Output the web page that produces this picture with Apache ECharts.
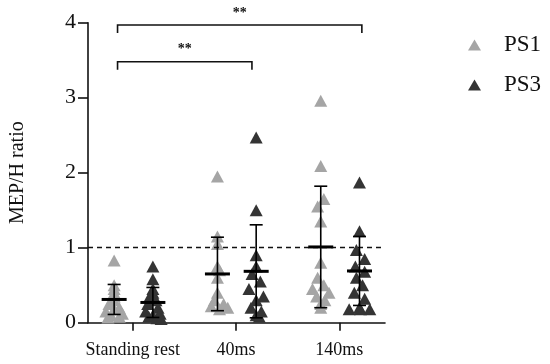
<!DOCTYPE html>
<html><head><meta charset="utf-8">
<script src="https://cdn.jsdelivr.net/npm/echarts@6/dist/echarts.min.js"></script>
<style>html,body{margin:0;padding:0;background:#fff}#c{width:550px;height:364px}</style>
</head><body><div id="c"></div>
<script>
var categories = ['Standing rest', '40ms', '140ms'];
var yTicks = [0, 1, 2, 3, 4];
// PS1 values per category
var ps1_sr = [0.83, 0.5, 0.45, 0.4, 0.35, 0.3, 0.25, 0.2, 0.18, 0.15, 0.12, 0.1, 0.08, 0.07];
var ps1_40 = [1.95, 1.15, 1.05, 0.75, 0.7, 0.6, 0.4, 0.3, 0.25, 0.22, 0.2, 0.18];
var ps1_140 = [2.96, 2.09, 1.65, 1.55, 1.35, 0.8, 0.6, 0.5, 0.45, 0.4, 0.35, 0.3, 0.25, 0.2];
// PS3 values per category
var ps3_sr = [0.75, 0.58, 0.45, 0.4, 0.35, 0.3, 0.25, 0.2, 0.15, 0.12, 0.1, 0.08, 0.06, 0.05];
var ps3_40 = [2.47, 1.5, 0.9, 0.75, 0.65, 0.55, 0.45, 0.35, 0.3, 0.2, 0.15, 0.1, 0.08];
var ps3_140 = [1.87, 1.22, 0.97, 0.85, 0.75, 0.68, 0.6, 0.5, 0.4, 0.32, 0.2, 0.18, 0.18, 0.18];
// horizontal spread of points within each group (beeswarm), category units
var jit1_sr = [0, 0, 0, 0, 0, 0, -0.05, 0.05, 0, -0.08, 0.08, -0.03, 0.05, -0.06];
var jit1_40 = [0, 0, 0, 0, 0.02, 0, 0, -0.03, 0.06, -0.06, 0.1, 0.02];
var jit1_140 = [0, 0, 0.03, -0.03, 0, 0, -0.03, 0.03, -0.08, 0.08, -0.04, 0.04, 0, 0];
var jit3_sr = [0, 0, 0, 0, -0.03, 0.03, -0.05, 0.05, -0.07, 0.07, 0, -0.04, 0.04, 0.08];
var jit3_40 = [0, 0, 0, 0, -0.04, 0.04, -0.07, 0.07, 0, -0.05, 0.05, 0, 0.03];
var jit3_140 = [0, 0, -0.03, 0.05, -0.04, 0.05, -0.03, 0.03, -0.05, 0.05, 0, -0.1, 0.1, 0.01];
// mean and SD per category
var ps1_mean = [0.31, 0.65, 1.01];
var ps1_sd = [0.20, 0.49, 0.81];
var ps3_mean = [0.27, 0.685, 0.69];
var ps3_sd = [0.20, 0.62, 0.46];
// significance brackets: [x start, x end, y level, label]
var sigBrackets = [[-0.147, 2.218, 3.97, '**'], [-0.147, 1.154, 3.48, '**']];
var refLine = 1;

var off1 = -0.18, off3 = 0.195;
var c1 = '#a5a5a5', c3 = '#343434';
var serif = 'Liberation Serif, Times New Roman, serif';

function pts(groups, jits, off) {
  var out = [];
  groups.forEach(function (g, ci) {
    g.forEach(function (v, i) { out.push([ci + off + jits[ci][i], v]); });
  });
  return out;
}
var ps1Pts = pts([ps1_sr, ps1_40, ps1_140], [jit1_sr, jit1_40, jit1_140], off1);
var ps3Pts = pts([ps3_sr, ps3_40, ps3_140], [jit3_sr, jit3_40, jit3_140], off3);

function statData(means, sds, off) {
  return means.map(function (m, i) { return [i + off, m, m - sds[i], m + sds[i]]; });
}

function renderStat(params, api) {
  var x = api.value(0);
  var pm = api.coord([x, api.value(1)]);
  var pl = api.coord([x, api.value(2)]);
  var ph = api.coord([x, api.value(3)]);
  var ls = { stroke: '#000', lineWidth: 1.6 };
  return {
    type: 'group',
    children: [
      { type: 'line', shape: { x1: pm[0], y1: ph[1], x2: pm[0], y2: pl[1] }, style: ls },
      { type: 'line', shape: { x1: pm[0] - 6.5, y1: ph[1], x2: pm[0] + 6.5, y2: ph[1] }, style: ls },
      { type: 'line', shape: { x1: pm[0] - 6.5, y1: pl[1], x2: pm[0] + 6.5, y2: pl[1] }, style: ls },
      { type: 'line', shape: { x1: pm[0] - 12.5, y1: pm[1], x2: pm[0] + 12.5, y2: pm[1] }, style: { stroke: '#000', lineWidth: 3 } }
    ]
  };
}

function renderSig(params, api) {
  var a = api.coord([api.value(0), api.value(2)]);
  var b = api.coord([api.value(1), api.value(2)]);
  var drop = 8;
  var ls = { stroke: '#111', lineWidth: 1.6, fill: null };
  return {
    type: 'group',
    children: [
      { type: 'polyline', shape: { points: [[a[0], a[1] + drop], [a[0], a[1]], [b[0], b[1]], [b[0], b[1] + drop]] }, style: ls },
      { type: 'text', x: (a[0] + b[0]) / 2, y: a[1] - 12, style: { text: sigBrackets[params.dataIndex][3], fill: '#111', fontFamily: serif, fontWeight: 'bold', fontSize: 14, align: 'center', verticalAlign: 'middle' } }
    ]
  };
}

var chart = echarts.init(document.getElementById('c'), null, { renderer: 'canvas' });
chart.setOption({
  animation: false,
  backgroundColor: '#fff',
  textStyle: { fontFamily: serif },
  grid: { left: 86, right: 165, top: 22.7, bottom: 41.3, containLabel: false },
  legend: {
    orient: 'vertical', left: 463, top: 28, itemWidth: 13, itemHeight: 11, itemGap: 16,
    icon: 'triangle',
    data: ['PS1', 'PS3'],
    textStyle: { fontFamily: serif, fontSize: 23, color: '#111', lineHeight: 24, padding: [0, 0, 0, 18] }
  },
  xAxis: {
    type: 'value', min: -0.433, max: 2.442,
    splitLine: { show: false },
    axisLine: { show: true, onZero: false, lineStyle: { color: '#111', width: 1.6 } },
    axisTick: { show: true, customValues: [0, 1, 2], length: 8, lineStyle: { color: '#111', width: 1.6 } },
    axisLabel: {
      customValues: [0, 1, 2], margin: 19, color: '#111', fontFamily: serif, fontSize: 18,
      formatter: function (v) { return '{c|' + categories[Math.round(v)] + '}'; },
      rich: { c: { fontFamily: serif, fontSize: 18, color: '#111' } }
    }
  },
  yAxis: {
    type: 'value', min: 0, max: 4, interval: 1,
    name: '{n|MEP/H ratio}', nameLocation: 'middle', nameGap: 60,
    nameTextStyle: { fontFamily: serif, fontSize: 20, color: '#111', rich: { n: { fontFamily: serif, fontSize: 20, color: '#111' } } },
    splitLine: { show: false },
    axisLine: { show: true, onZero: false, lineStyle: { color: '#111', width: 1.6 } },
    axisTick: { show: true, length: 10, lineStyle: { color: '#111', width: 1.6 } },
    axisLabel: { color: '#111', fontFamily: serif, fontSize: 22, margin: 12,
      formatter: function (v) { return yTicks.indexOf(v) >= 0 ? '{y|' + v + '}' : ''; },
      rich: { y: { fontFamily: serif, fontSize: 22, color: '#111' } } }
  },
  series: [
    { name: 'PS1', type: 'scatter', symbol: 'triangle', symbolSize: [13, 12], itemStyle: { color: c1, opacity: 1 }, data: ps1Pts, z: 2,
      markLine: { silent: true, symbol: 'none', label: { show: false }, lineStyle: { color: '#111', type: [5, 4], width: 1.4 }, data: [{ yAxis: refLine }] } },
    { name: 'PS3', type: 'scatter', symbol: 'triangle', symbolSize: [13, 12], itemStyle: { color: c3, opacity: 1 }, data: ps3Pts, z: 3 },
    { type: 'custom', renderItem: renderStat, data: statData(ps1_mean, ps1_sd, off1), z: 5, silent: true },
    { type: 'custom', renderItem: renderStat, data: statData(ps3_mean, ps3_sd, off3), z: 5, silent: true },
    { type: 'custom', renderItem: renderSig, data: sigBrackets.map(function (s) { return [s[0], s[1], s[2]]; }), clip: false, z: 6, silent: true }
  ]
});
</script></body></html>
